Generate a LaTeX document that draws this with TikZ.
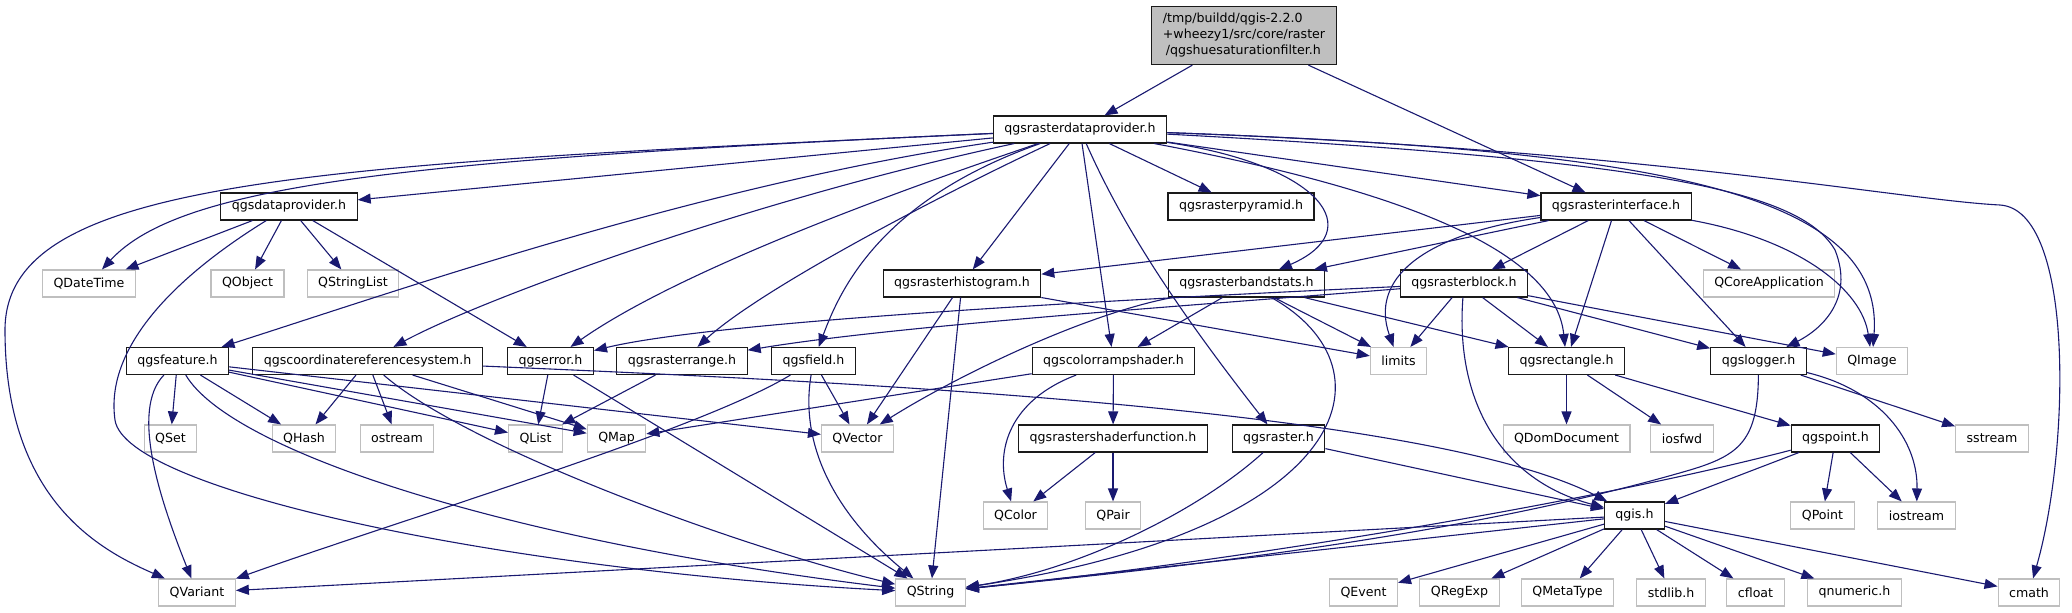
\documentclass[tikz,border=0pt]{standalone}
\usepackage{fontspec}
\setmainfont{DejaVu Sans}
\usepackage{xcolor}
\usetikzlibrary{arrows.meta}
\definecolor{ink}{HTML}{1A1A1A}
\definecolor{frame}{HTML}{BFBFBF}
\definecolor{depblue}{HTML}{191970}

\begin{document}
\begin{tikzpicture}[
    x=1pt, y=-1pt,
    font=\fontsize{12.6}{16}\selectfont,
    hdr/.style={draw=ink, line width=1.1pt, fill=white, inner xsep=11pt,
        inner ysep=2pt, minimum height=27pt},
    sys/.style={hdr, draw=frame},
    rootbox/.style={hdr, fill=frame, align=left, inner ysep=7pt},
    dep/.style={draw=depblue, line width=1.1pt, -{Triangle[length=13pt,width=10pt]}}
]

% Canvas: 2072 x 613 px, one unit = one px, y grows downwards.
\useasboundingbox (0,0) rectangle (2072,613);

% Rank rows (centre lines).
\def\rowA{129.5}
\def\rowB{206.5}
\def\rowC{283.5}
\def\rowD{361}
\def\rowE{438.5}
\def\rowF{515.5}
\def\rowG{592.5}

% The documented file.
\node[rootbox] (root) at (1244,35.5)
    {/tmp/buildd/qgis-2.2.0\\+wheezy1/src/core/raster\\\hspace*{3pt}/qgshuesaturationfilter.h};

% Project headers.
\foreach \n/\x/\y/\lab in {
    rdp/1080/\rowA/qgsrasterdataprovider.h,
    dataprov/289/\rowB/qgsdataprovider.h,
    pyramid/1241/\rowB/qgsrasterpyramid.h,
    iface/1616/\rowB/qgsrasterinterface.h,
    histogram/962/\rowC/qgsrasterhistogram.h,
    bandstats/1246.5/\rowC/qgsrasterbandstats.h,
    block/1464/\rowC/qgsrasterblock.h,
    feature/177.5/\rowD/qgsfeature.h,
    crs/367.5/\rowD/qgscoordinatereferencesystem.h,
    error/550.5/\rowD/qgserror.h,
    range/682/\rowD/qgsrasterrange.h,
    field/813.5/\rowD/qgsfield.h,
    colorramp/1113.5/\rowD/qgscolorrampshader.h,
    rectangle/1566.5/\rowD/qgsrectangle.h,
    logger/1758.5/\rowD/qgslogger.h,
    shaderfn/1113/\rowE/qgsrastershaderfunction.h,
    raster/1278.5/\rowE/qgsraster.h,
    point/1835.5/\rowE/qgspoint.h,
    qgis/1634.5/\rowF/qgis.h}
  \node[hdr] (\n) at (\x,\y) {\lab};

% System and Qt headers.
\foreach \n/\x/\y/\lab in {
    qdatetime/89/\rowC/QDateTime,
    qobject/247.5/\rowC/QObject,
    qstringlist/353/\rowC/QStringList,
    qcoreapp/1769/\rowC/QCoreApplication,
    limits/1398.5/\rowD/limits,
    qimage/1872/\rowD/QImage,
    qset/170.5/\rowE/QSet,
    qhash/304/\rowE/QHash,
    ostream/397/\rowE/ostream,
    qlist/535.5/\rowE/QList,
    qmap/616.5/\rowE/QMap,
    qvector/857.5/\rowE/QVector,
    qdomdoc/1566.5/\rowE/QDomDocument,
    iosfwd/1682/\rowE/iosfwd,
    sstream/1992/\rowE/sstream,
    qcolor/1015.5/\rowF/QColor,
    qpair/1113/\rowF/QPair,
    qpoint/1822.5/\rowF/QPoint,
    iostream/1916.5/\rowF/iostream,
    qvariant/197/\rowG/QVariant,
    qstring/930.5/\rowG/QString,
    qevent/1363.5/\rowG/QEvent,
    qregexp/1459.5/\rowG/QRegExp,
    qmetatype/1567.5/\rowG/QMetaType,
    stdlib/1671/\rowG/stdlib.h,
    cfloat/1755.5/\rowG/cfloat,
    qnumeric/1854.5/\rowG/qnumeric.h,
    cmath/2029/\rowG/cmath}
  \node[sys] (\n) at (\x,\y) {\lab};

% Straight includes.
\foreach \a/\b in {
    root/rdp, root/iface,
    rdp/dataprov, rdp/histogram, rdp/colorramp, rdp/pyramid, rdp/iface,
    dataprov/qdatetime, dataprov/qobject, dataprov/qstringlist, dataprov/error,
    feature/qset, feature/qhash, feature/qlist, feature/qmap, feature/qvector,
    crs/qhash, crs/ostream, crs/qmap,
    error/qlist, error/qstring, range/qlist, field/qvector,
    histogram/qvector, histogram/qstring, histogram/limits,
    bandstats/colorramp, bandstats/rectangle, bandstats/limits,
    colorramp/shaderfn, colorramp/qmap,
    shaderfn/qcolor, shaderfn/qpair, raster/qgis,
    iface/histogram, iface/bandstats, iface/block, iface/rectangle,
    iface/logger, iface/qcoreapp,
    block/limits, block/rectangle, block/logger, block/qimage,
    rectangle/qdomdoc, rectangle/iosfwd, rectangle/point, logger/sstream,
    point/qgis, point/qpoint, point/iostream,
    qgis/qvariant, qgis/qstring, qgis/qevent, qgis/qregexp, qgis/qmetatype,
    qgis/stdlib, qgis/cfloat, qgis/qnumeric, qgis/cmath}
  \draw[dep] (\a) -- (\b);

% Routed includes of qgsrasterdataprovider.h.
\draw[dep] (rdp) .. controls (400,160) and (180,185) .. (qdatetime);
\draw[dep] (rdp) .. controls (300,165) and (5,180) .. (5,330)
    .. controls (5,500) and (100,550) .. (qvariant);
\draw[dep] (rdp) .. controls (700,185) and (400,290) .. (feature);
\draw[dep] (rdp) .. controls (750,200) and (480,300) .. (crs);
\draw[dep] (rdp) .. controls (900,190) and (680,270) .. (error);
\draw[dep] (rdp) .. controls (930,200) and (760,290) .. (range);
\draw[dep] (rdp) .. controls (880,200) and (840,290) .. (field);
\draw[dep] (rdp) .. controls (1120,220) and (1170,300) .. (raster);
\draw[dep] (rdp) .. controls (1320,165) and (1370,230) .. (bandstats);
\draw[dep] (rdp) .. controls (1400,190) and (1555,250) .. (rectangle);
\draw[dep] (rdp) .. controls (1650,160) and (1800,190) .. (1835,250)
    .. controls (1855,300) and (1820,330) .. (logger);
\draw[dep] (rdp) .. controls (1650,150) and (1885,190) .. (qimage);
\draw[dep] (rdp) .. controls (1650,150) and (1900,200) .. (2000,205)
    .. controls (2075,210) and (2070,450) .. (cmath);

% Other routed includes.
\draw[dep] (dataprov) .. controls (170,280) and (105,350) .. (115,420)
    .. controls (125,490) and (500,570) .. (qstring);
\draw[dep] (feature) .. controls (130,410) and (160,500) .. (qvariant);
\draw[dep] (feature) .. controls (230,450) and (500,540) .. (qstring);
\draw[dep] (crs) .. controls (470,450) and (750,550) .. (qstring);
\draw[dep] (crs) .. controls (800,380) and (1420,405) .. (qgis);
\draw[dep] (field) .. controls (800,440) and (830,510) .. (qstring);
\draw[dep] (field) .. controls (700,430) and (400,520) .. (qvariant);
\draw[dep] (bandstats) .. controls (1080,315) and (950,380) .. (qvector);
\draw[dep] (bandstats) .. controls (1400,370) and (1350,530) .. (qstring);
\draw[dep] (colorramp) .. controls (1010,400) and (995,450) .. (qcolor);
\draw[dep] (raster) .. controls (1200,510) and (1080,570) .. (qstring);
\draw[dep] (iface) .. controls (1420,235) and (1370,280) .. (limits);
\draw[dep] (iface) .. controls (1800,240) and (1862,290) .. (qimage);
\draw[dep] (block) .. controls (1000,305) and (700,325) .. (error);
\draw[dep] (block) .. controls (1200,305) and (900,325) .. (range);
\draw[dep] (block) .. controls (1455,400) and (1500,480) .. (qgis);
\draw[dep] (logger) .. controls (1758,440) and (1740,455) .. (1690,470)
    .. controls (1450,540) and (1150,570) .. (qstring);
\draw[dep] (logger) .. controls (1880,390) and (1918,440) .. (iostream);
\draw[dep] (point) .. controls (1600,500) and (1250,560) .. (qstring);

\end{tikzpicture}
\end{document}
